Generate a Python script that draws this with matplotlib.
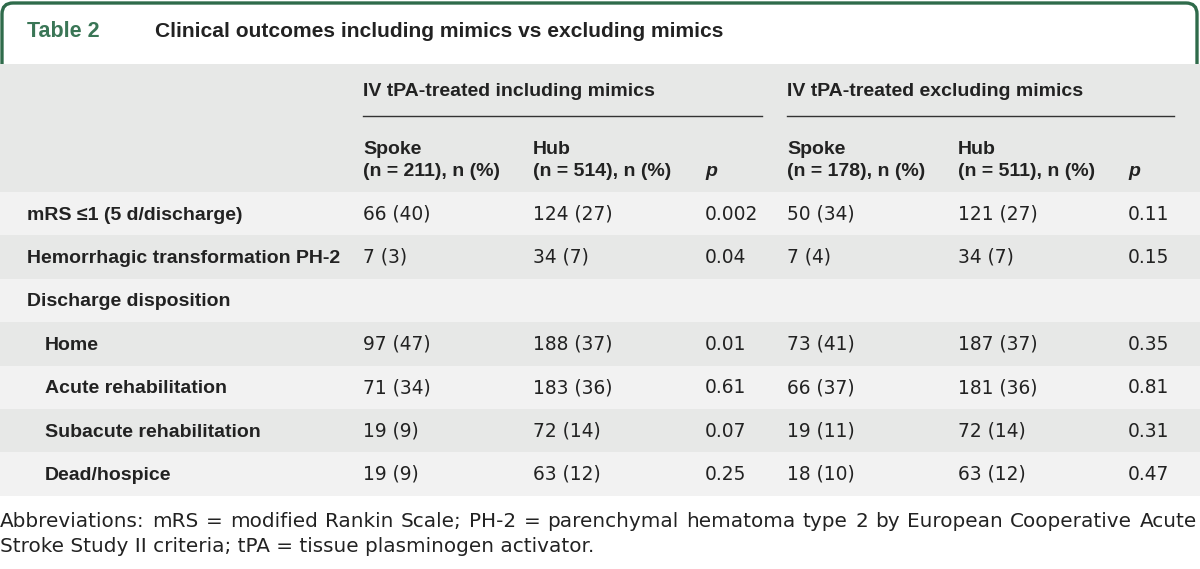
#!/usr/bin/env python3
"""Table 2: clinical outcomes including vs excluding mimics, drawn as a figure."""
import matplotlib
matplotlib.use("Agg")
import matplotlib.pyplot as plt
from matplotlib.patches import FancyBboxPatch, Rectangle

plt.rcParams["font.family"] = ["Liberation Sans", "DejaVu Sans"]
BODY_FONT = ["DejaVu Sans"]

GREEN = "#2f6b4b"
TITLE_GREEN = "#3a7656"
HEAD_BG = "#e7e8e7"
ROW_LIGHT = "#f2f2f2"
INK = "#222222"

table_no = "Table 2"
title = "Clinical outcomes including mimics vs excluding mimics"
groups = ["IV tPA-treated including mimics", "IV tPA-treated excluding mimics"]
sub_heads = [("Spoke", "(n = 211), n (%)"), ("Hub", "(n = 514), n (%)"),
             ("Spoke", "(n = 178), n (%)"), ("Hub", "(n = 511), n (%)")]

row_labels = ["mRS ≤1 (5 d/discharge)", "Hemorrhagic transformation PH-2",
              "Discharge disposition", "Home", "Acute rehabilitation",
              "Subacute rehabilitation", "Dead/hospice"]
row_indent = [False, False, False, True, True, True, True]

spoke_inc_n = [66, 7, None, 97, 71, 19, 19]
spoke_inc_pct = [40, 3, None, 47, 34, 9, 9]
hub_inc_n = [124, 34, None, 188, 183, 72, 63]
hub_inc_pct = [27, 7, None, 37, 36, 14, 12]
p_inc = ["0.002", "0.04", None, "0.01", "0.61", "0.07", "0.25"]
spoke_exc_n = [50, 7, None, 73, 66, 19, 18]
spoke_exc_pct = [34, 4, None, 41, 37, 11, 10]
hub_exc_n = [121, 34, None, 187, 181, 72, 63]
hub_exc_pct = [27, 7, None, 37, 36, 14, 12]
p_exc = ["0.11", "0.15", None, "0.35", "0.81", "0.31", "0.47"]

footnote = ("Abbreviations: mRS = modified Rankin Scale; PH-2 = parenchymal hematoma "
            "type 2 by European Cooperative Acute|Stroke Study II criteria; "
            "tPA = tissue plasminogen activator.")

W, H = 1200, 569
fig = plt.figure(figsize=(W / 100, H / 100), dpi=100)
ax = fig.add_axes([0, 0, 1, 1])
ax.set_xlim(0, W)
ax.set_ylim(H, 0)
ax.axis("off")

# title tab
tab = FancyBboxPatch((2, 3), W - 5, 80, boxstyle="round,pad=0,rounding_size=11",
                     facecolor="white", edgecolor=GREEN, linewidth=2.4, zorder=1)
ax.add_patch(tab)
ax.text(27, 31, table_no, color=TITLE_GREEN, fontsize=15.5, fontweight="bold",
        va="center", ha="left", zorder=3)
ax.text(155, 31, title, color=INK, fontsize=15.1, fontweight="bold",
        va="center", ha="left", zorder=3)

# header block
ax.add_patch(Rectangle((0, 64), W, 128, facecolor=HEAD_BG, edgecolor="none", zorder=2))

col_x = [363, 533, 705, 787, 958, 1128]
fs = 14
body_fs = 13.4
ax.text(col_x[0], 91, groups[0], fontsize=fs, fontweight="bold", color=INK,
        va="center", zorder=3)
ax.text(col_x[3], 91, groups[1], fontsize=fs, fontweight="bold", color=INK,
        va="center", zorder=3)
ax.plot([363, 762], [116, 116], color="#333333", lw=1.0, zorder=3)
ax.plot([787, 1174], [116, 116], color="#333333", lw=1.0, zorder=3)

for x, (top, bot) in zip([col_x[0], col_x[1], col_x[3], col_x[4]], sub_heads):
    ax.text(x, 154, top, fontsize=fs, fontweight="bold", color=INK, va="baseline", zorder=3)
    ax.text(x, 176, bot, fontsize=fs, fontweight="bold", color=INK, va="baseline", zorder=3)
for x in (col_x[2], col_x[5]):
    ax.text(x, 176, "p", fontsize=fs, fontweight="bold", style="italic", color=INK,
            va="baseline", zorder=3)

# body rows
row_top = 192
row_h = 43.4
for i, lab in enumerate(row_labels):
    y0 = row_top + i * row_h
    bg = ROW_LIGHT if i % 2 == 0 else HEAD_BG
    ax.add_patch(Rectangle((0, y0), W, row_h, facecolor=bg, edgecolor="none", zorder=2))
    yb = y0 + row_h / 2 + 5.8
    ax.text(45 if row_indent[i] else 27, yb, lab, fontsize=fs, fontweight="bold",
            color=INK, va="baseline", zorder=3)
    if spoke_inc_n[i] is None:
        continue
    cells = [f"{spoke_inc_n[i]} ({spoke_inc_pct[i]})", f"{hub_inc_n[i]} ({hub_inc_pct[i]})",
             p_inc[i],
             f"{spoke_exc_n[i]} ({spoke_exc_pct[i]})", f"{hub_exc_n[i]} ({hub_exc_pct[i]})",
             p_exc[i]]
    for x, c in zip(col_x, cells):
        ax.text(x, yb, c, fontsize=body_fs, family=BODY_FONT, color=INK,
                va="baseline", zorder=3)

# justified footnote (first line), ragged last line
fig.canvas.draw()
renderer = fig.canvas.get_renderer()
line1, line2 = footnote.split("|")
fn_fs = 14.4
words = line1.split(" ")
arts = [ax.text(0, 527, w, fontsize=fn_fs, family=BODY_FONT, color=INK,
                va="baseline", zorder=3) for w in words]
widths = [a.get_window_extent(renderer).width for a in arts]
gap = (1197 - sum(widths)) / (len(words) - 1)
x = 0
for a, w in zip(arts, widths):
    a.set_x(x)
    x += w + gap
ax.text(0, 552, line2, fontsize=fn_fs, family=BODY_FONT, color=INK,
        va="baseline", zorder=3)

fig.savefig("out.png", dpi=100, facecolor="white")
